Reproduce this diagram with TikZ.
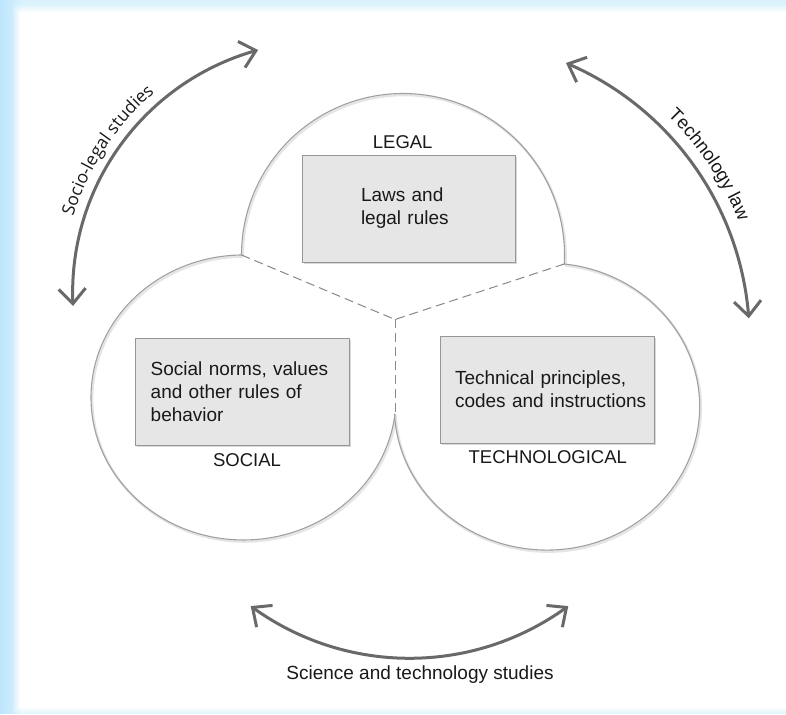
\documentclass[tikz,border=0pt]{standalone}
\usepackage{fontspec}
\setmainfont{Liberation Sans}
\newfontfamily\osans{Open Sans}
\usetikzlibrary{arrows.meta,bending,shadows,decorations.text}
\definecolor{bgblue}{RGB}{218,242,252}
\definecolor{bgblueL}{RGB}{188,229,252}
\definecolor{boxfill}{RGB}{230,230,230}
\definecolor{boxline}{RGB}{150,150,150}
\definecolor{ringline}{RGB}{160,160,160}
\definecolor{arrowgray}{RGB}{105,105,105}
\definecolor{txt}{RGB}{25,25,25}
\begin{document}
\begin{tikzpicture}[x=1pt,y=1pt,
  ring/.style={draw=ringline, line width=1.1pt},
  ringshadow/.style={draw=black!10, line width=2.4pt},
  divider/.style={draw=ringline!85!black, line width=1pt, dash pattern=on 9pt off 5pt},
  rulebox/.style={draw=boxline, fill=boxfill, line width=0.9pt, minimum width=213pt,
    minimum height=107pt, inner sep=0pt, align=left, font=\fontsize{19}{23}\selectfont,
    text=txt, drop shadow={shadow xshift=2pt, shadow yshift=-2.5pt, opacity=0.3}},
  area/.style={font=\fontsize{18.5}{22}\selectfont, text=txt, anchor=base, inner sep=0pt},
  field/.style={draw=arrowgray, line width=3pt, >={Straight Barb[length=15pt,width=27pt]}, <->},
  fieldlabel/.style={font=\fontsize{18.5}{22}\selectfont, text=txt, inner sep=0pt}
]
\useasboundingbox (0,0) rectangle (786,714);
% background
\fill[bgblue] (0,0) rectangle (786,714);
\shade[left color=bgblueL, right color=bgblue] (0,0) rectangle (22,714);
\foreach \d/\o in {7/0.2, 5/0.3, 3/0.45, 1.5/0.6}
  \fill[white, opacity=\o, rounded corners=4pt] (20-\d,6-\d) rectangle (792+\d,702+\d);
\fill[white, rounded corners=3pt] (20,6) rectangle (792,702);

% junction points
\coordinate (jl) at (241.5,459);
\coordinate (jr) at (564.25,450);
\coordinate (jb) at (395,300.2);
\coordinate (cc) at (395,394.5);

% ring shadows
\draw[ringshadow] ([shift={(1.2,-1.6)}]jr) arc[start angle=-3.19, end angle=180, radius=161.5];
\draw[ringshadow] ([shift={(1.2,-1.6)}]jl) arc[start angle=90.75, end angle=353.43, x radius=152.5, y radius=142.5];
\draw[ringshadow] ([shift={(1.2,-1.6)}]jr) arc[start angle=83.5, end angle=-177.07, x radius=152.7, y radius=143.5];
% rings
\draw[ring] (jr) arc[start angle=-3.19, end angle=180, radius=161.5];
\draw[ring] (jl) arc[start angle=90.75, end angle=353.43, x radius=152.5, y radius=142.5];
\draw[ring] (jr) arc[start angle=83.5, end angle=-177.07, x radius=152.7, y radius=143.5];
% dividers
\draw[divider] (jl) -- (cc);
\draw[divider] (jr) -- (cc);
\draw[divider] (cc) -- (jb);

% boxes
\node[rulebox, text width=95pt] (lawbox) at (408.5,505.5) {Laws and\\legal rules};
\node[rulebox, minimum width=214pt, text width=182.6pt] (socbox) at (242,322.5)
  {Social norms, values\\and other rules of\\behavior};
\node[rulebox, minimum width=214pt, text width=184pt] (techbox) at (547,324.5)
  {Technical principles,\\\mbox{codes and instructions}};

% area labels
\node[area] (legal) at (402.7,565.7) {LEGAL};
\node[area] (social) at (247,247.3) {SOCIAL};
\node[area] (tech) at (547.8,250) {TECHNOLOGICAL};

% field arrows
\coordinate (slc) at (324,421.4);
\coordinate (sl1) at (73,408);
\draw[field] (sl1) arc[start angle=183.06, end angle=105.2, radius=251.4];
\path[decorate, decoration={text along path, text align=center, text color=txt,
  text={|\osans\fontsize{17.5}{21}\selectfont|Socio-legal studies}}]
  ([shift={(186.7:262)}]slc) arc[start angle=186.7, end angle=106.7, radius=262];

\coordinate (tlc) at (449.2,374.1);
\coordinate (tl1) at (566,651);
\draw[field] (tl1) arc[start angle=67.1, end angle=4.1, radius=300.5];
\path[decorate, decoration={text along path, text align=center, text color=txt,
  text={|\fontsize{18.5}{22}\selectfont|Technology law}}]
  ([shift={(64:313)}]tlc) arc[start angle=64, end angle=4, radius=313];

\coordinate (st1) at (250.7,107.9);
\draw[field] (st1) arc[start angle=233.6, end angle=306.4, radius=267.6];
\node[fieldlabel, anchor=base, font=\fontsize{19}{22}\selectfont] (stlabel) at (420,34) {Science and technology studies};
\end{tikzpicture}
\end{document}
